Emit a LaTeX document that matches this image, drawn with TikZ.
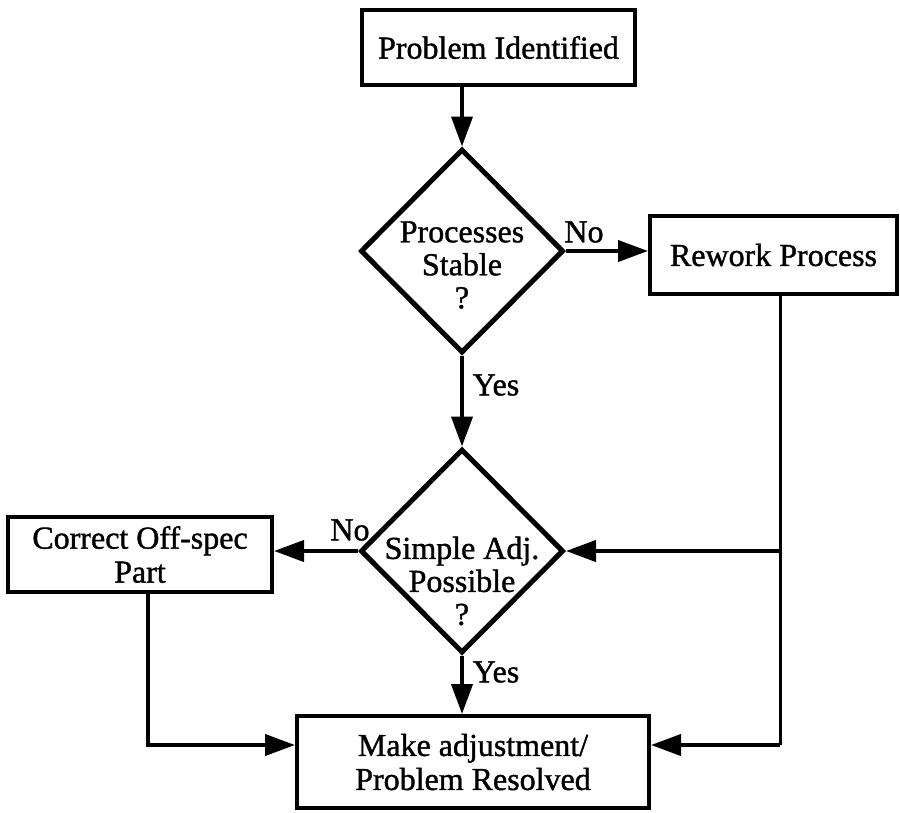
\documentclass[tikz,border=0pt]{standalone}
\usepackage{fontspec}
\setmainfont{Liberation Serif}[FakeBold=1.2]
\usetikzlibrary{arrows.meta,shapes.geometric}
\begin{document}
\begin{tikzpicture}[x=1pt,y=-1pt,
  box/.style={draw,line width=4pt,inner sep=0pt,align=center,font=\fontsize{32}{34}\selectfont},
  dia/.style={draw,shape=diamond,line width=5pt,inner sep=0pt,minimum width=203pt,minimum height=204pt},
  txt/.style={align=center,inner sep=0pt,font=\fontsize{32}{33}\selectfont},
  conn/.style={line width=4pt,-{Triangle[length=30pt,width=21pt]}},
  thinline/.style={line width=3pt}]
\useasboundingbox (0,0) rectangle (900,812);
% nodes
\node[box,minimum width=273pt,minimum height=75pt] (pi) at (498.5,47.5) {Problem Identified};
\node[dia] (d1) at (462,251) {};
\node[txt] (d1t) at (462,265) {Processes\\Stable\\?};
\node[box,minimum width=247pt,minimum height=78pt] (rw) at (773.5,255) {Rework Process};
\node[dia] (d2) at (462,551) {};
\node[txt] (d2t) at (462,581) {Simple Adj.\\Possible\\?};
\node[box,minimum width=264pt,minimum height=75pt] (co) at (140,554.5) {Correct Off-spec\\Part};
\node[box,minimum width=352pt,minimum height=92pt] (mk) at (473,762) {Make adjustment/\\Problem Resolved};
% labels
\node[txt] (no1) at (584,232) {No};
\node[txt] (yes1) at (496,385) {Yes};
\node[txt] (no2) at (350,530) {No};
\node[txt] (yes2) at (496,672) {Yes};
% helper coordinates
\coordinate (rwb) at (780,745);
\coordinate (cob) at (148,745);
% connectors
\draw[conn] (d1.north |- pi.south) -- (d1.north);
\draw[conn] (d1.east) -- (d1.east -| rw.west);
\draw[conn] (d1.south) -- (d2.north);
\draw[conn] (d2.west) -- (d2.west -| co.east);
\draw[thinline] (rw.south -| rwb) -- (rwb);
\draw[conn] (rwb) -- (rwb -| mk.east);
\draw[conn] (d2.east -| rwb) -- (d2.east);
\draw[conn] (co.south -| cob) -- (cob) -- (cob -| mk.west);
\draw[conn] (d2.south) -- (d2.south |- mk.north);
\end{tikzpicture}
\end{document}
